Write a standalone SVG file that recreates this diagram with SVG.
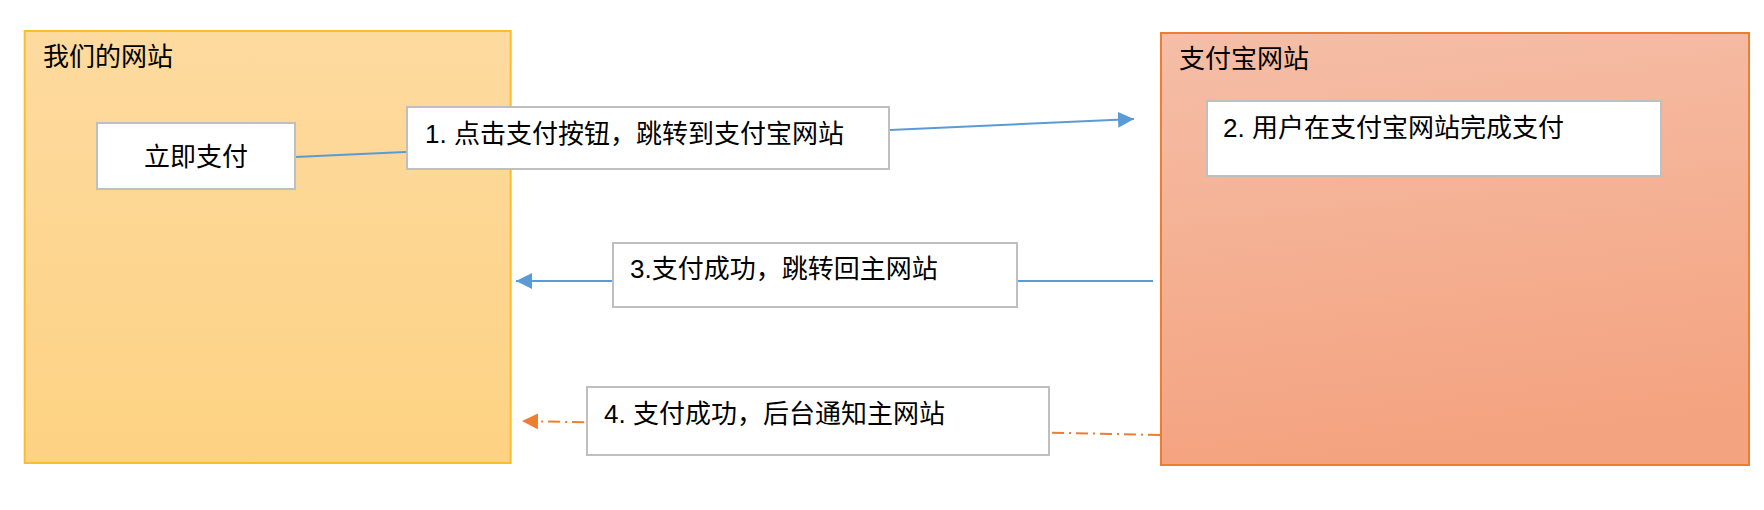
<svg xmlns="http://www.w3.org/2000/svg" width="1764" height="510" viewBox="0 0 1764 510">
  <style>
    .t { font-family: "Liberation Sans", "Noto Sans CJK SC", sans-serif; font-size: 26px; fill: #000; }
    .lbl { fill: #ffffff; stroke: #BFBFBF; stroke-width: 2; }
    .blue { stroke: #5B9BD5; stroke-width: 2; fill: none; }
    .orange { stroke: #ED7D31; stroke-width: 2; fill: none; stroke-dasharray: 12 5 2 5; }
  </style>
  <defs>
    <linearGradient id="gOur" x1="0" y1="0" x2="0" y2="1">
      <stop offset="0" stop-color="#FDDA9F"/>
      <stop offset="1" stop-color="#FDD283"/>
    </linearGradient>
    <linearGradient id="gAli" x1="0" y1="0" x2="0.15" y2="1">
      <stop offset="0" stop-color="#F5BEA7"/>
      <stop offset="1" stop-color="#F4A380"/>
    </linearGradient>
    <marker id="aBlue" markerUnits="userSpaceOnUse" markerWidth="16" markerHeight="16" viewBox="0 0 14 14" refX="14" refY="7" orient="auto">
      <path d="M0,0 L14,7 L0,14 Z" fill="#5B9BD5"/>
    </marker>
    <marker id="aOrange" markerUnits="userSpaceOnUse" markerWidth="16" markerHeight="16" viewBox="0 0 14 14" refX="14" refY="7" orient="auto">
      <path d="M0,0 L14,7 L0,14 Z" fill="#ED7D31"/>
    </marker>
  </defs>

  <g id="our-site">
    <rect x="24.7" y="31" width="486" height="432" fill="url(#gOur)" stroke="#FBBD2E" stroke-width="2"/>
    <text class="t" x="43" y="66">我们的网站</text>
  </g>

  <g id="alipay-site">
    <rect x="1161" y="33" width="588" height="432" fill="url(#gAli)" stroke="#ED7D31" stroke-width="2"/>
    <text class="t" x="1179" y="68">支付宝网站</text>
  </g>

  <g id="connectors">
    <line class="blue" x1="295" y1="157" x2="1134" y2="119" marker-end="url(#aBlue)"/>
    <line class="blue" x1="1153" y1="281" x2="516" y2="281" marker-end="url(#aBlue)"/>
    <line class="orange" x1="1160" y1="435" x2="522" y2="421" marker-end="url(#aOrange)"/>
  </g>

  <g id="pay-now">
    <rect class="lbl" x="97" y="123" width="198" height="66"/>
    <text class="t" x="196" y="166" text-anchor="middle">立即支付</text>
  </g>

  <g id="step1">
    <rect class="lbl" x="407" y="107" width="482" height="62"/>
    <text class="t" x="425" y="143">1. 点击支付按钮，跳转到支付宝网站</text>
  </g>

  <g id="step2">
    <rect class="lbl" x="1207" y="101" width="454" height="75"/>
    <text class="t" x="1223" y="137">2. 用户在支付宝网站完成支付</text>
  </g>

  <g id="step3">
    <rect class="lbl" x="613" y="243" width="404" height="64"/>
    <text class="t" x="630" y="278">3.支付成功，跳转回主网站</text>
  </g>

  <g id="step4">
    <rect class="lbl" x="587" y="387" width="462" height="68"/>
    <text class="t" x="604" y="423">4. 支付成功，后台通知主网站</text>
  </g>
</svg>
